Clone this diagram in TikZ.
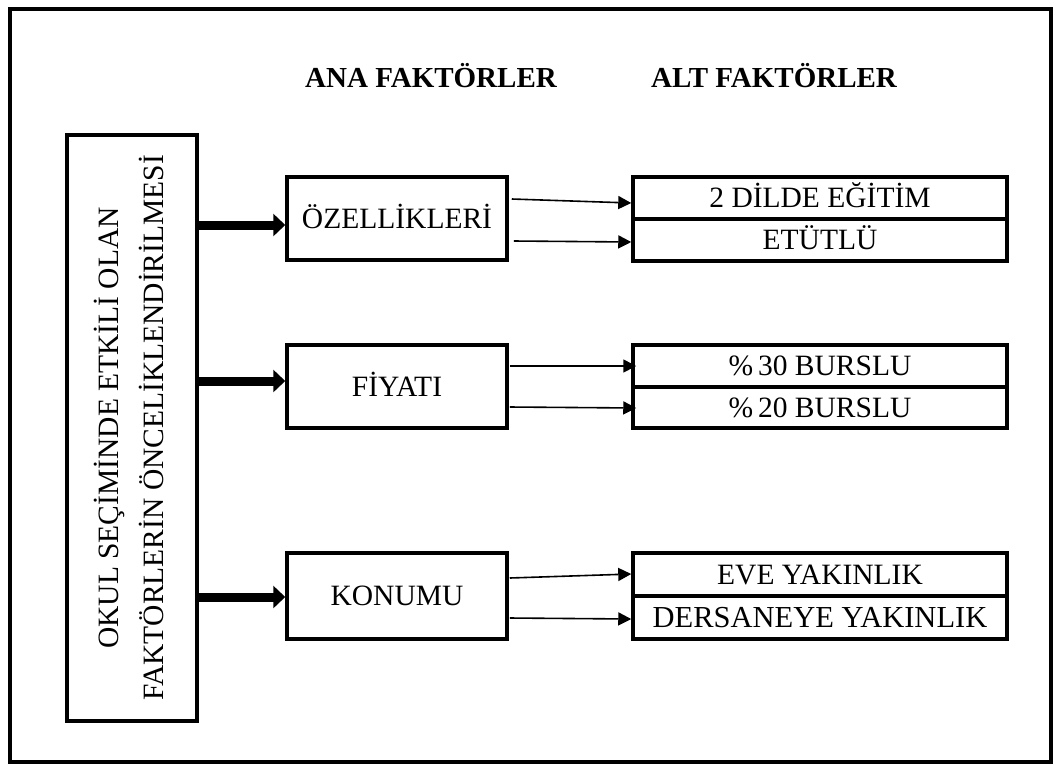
\documentclass[tikz,border=0pt]{standalone}
\usepackage{fontspec}
\setmainfont{Liberation Serif}
\usetikzlibrary{arrows.meta,calc}
\begin{document}
\begin{tikzpicture}[x=1pt,y=-1pt,
  box/.style={draw, line width=3.5pt, inner sep=0pt, font=\fontsize{29.5}{35}\selectfont, text height=19.5pt, text depth=0pt},
  midbox/.style={box, minimum width=220pt},
  rowbox/.style={box, minimum width=374pt},
  header/.style={inner sep=0pt, font=\bfseries\fontsize{29}{35}\selectfont},
  bigarrow/.style={line width=9pt, -{Triangle[length=12pt,width=22pt]}},
  smallarrow/.style={line width=1.6pt, -{Triangle[length=13pt,width=13pt]}}]
\useasboundingbox (0,0) rectangle (1056,764);
\draw[line width=3.5pt] (10,9) rectangle (1051,762);

% headers
\node[header] (hana) at (431,76) {ANA FAKTÖRLER};
\node[header] (halt) at (774,76) {ALT FAKTÖRLER};

% main vertical box
\node[draw, line width=3.5pt, minimum width=130pt, minimum height=586pt, inner sep=0pt] (main) at (132,428) {};
\node[rotate=90, align=center, inner sep=0pt, font=\fontsize{29.5}{45}\selectfont] (maintext) at (129,428)
  {OKUL SEÇİMİNDE ETKİLİ OLAN\\FAKTÖRLERİN ÖNCELİKLENDİRİLMESİ};

% main factor boxes
\node[midbox, minimum height=83pt] (ozel) at (397,218.5) {ÖZELLİKLERİ};
\node[midbox, minimum height=83pt] (fiyat) at (397,386.5) {FİYATI};
\node[midbox, minimum height=86pt] (konum) at (397,596) {KONUMU};

% sub factor boxes
\node[rowbox, minimum height=42pt] (r1a) at (820,198) {2 DİLDE EĞİTİM};
\node[rowbox, minimum height=42pt] (r1b) at (820,240) {ETÜTLÜ};
\node[rowbox, minimum height=42pt] (r2a) at (820,366) {\%\,30 BURSLU};
\node[rowbox, minimum height=41pt] (r2b) at (820,407.5) {\%\,20 BURSLU};
\node[rowbox, minimum height=43pt] (r3a) at (820,574.5) {EVE YAKINLIK};
\node[rowbox, minimum height=43pt, font=\fontsize{30.5}{35}\selectfont] (r3b) at (820,617.5) {DERSANEYE YAKINLIK};

% thick arrows
\coordinate (t1) at ([yshift=-6.5pt]ozel.west);
\coordinate (t2) at ([yshift=5.5pt]fiyat.west);
\coordinate (t3) at ([yshift=-1pt]konum.west);
\draw[bigarrow] (t1 -| main.east) -- (t1);
\draw[bigarrow] (t2 -| main.east) -- (t2);
\draw[bigarrow] (t3 -| main.east) -- (t3);

% thin arrows
\draw[smallarrow] ([xshift=3pt,yshift=19.5pt]ozel.east) -- ([yshift=-5pt]r1a.west);
\draw[smallarrow] ([xshift=5pt,yshift=-22.5pt]ozel.east) -- ([yshift=-2pt]r1b.west);
\draw[smallarrow] ([xshift=1pt,yshift=20.5pt]fiyat.east) -- ([xshift=5pt]r2a.west);
\draw[smallarrow] ([xshift=1pt,yshift=-20.5pt]fiyat.east) -- ([xshift=5pt,yshift=-0.5pt]r2b.west);
\draw[smallarrow] ([xshift=1pt,yshift=18pt]konum.east) -- ([yshift=0.5pt]r3a.west);
\draw[smallarrow] ([xshift=1pt,yshift=-22pt]konum.east) -- ([yshift=-1.5pt]r3b.west);
\end{tikzpicture}
\end{document}
